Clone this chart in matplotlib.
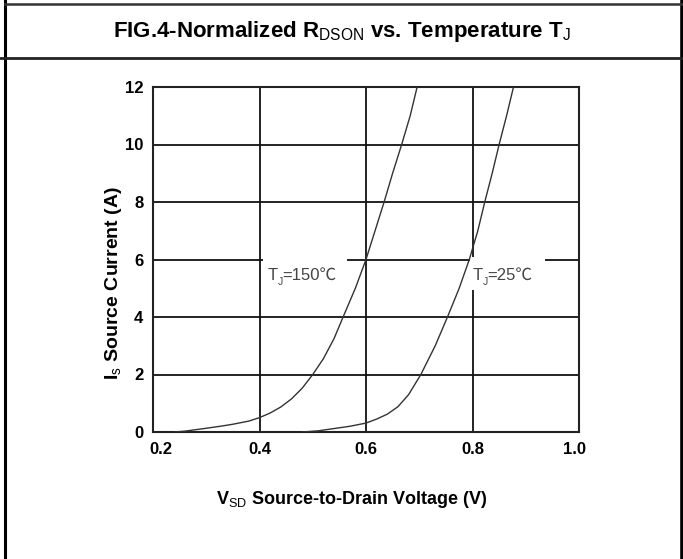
import matplotlib
matplotlib.use("Agg")
import matplotlib.pyplot as plt
from matplotlib.lines import Line2D
from matplotlib.patches import Rectangle
import matplotlib.transforms as mtransforms

plt.rcParams['font.family'] = ['Liberation Sans', 'Noto Sans CJK SC', 'DejaVu Sans']
plt.rcParams['mathtext.fontset'] = 'custom'
plt.rcParams['mathtext.rm'] = 'Liberation Sans'
plt.rcParams['mathtext.bf'] = 'Liberation Sans:bold'

# ---- data ----
v_150 = [0.24, 0.26, 0.28, 0.30, 0.33, 0.35, 0.38, 0.40, 0.42, 0.44, 0.46, 0.48, 0.50, 0.52, 0.54, 0.557, 0.58, 0.60, 0.617, 0.634, 0.65, 0.667, 0.683, 0.696]
i_150 = [0.0, 0.03, 0.08, 0.13, 0.21, 0.27, 0.38, 0.5, 0.66, 0.87, 1.15, 1.52, 2.0, 2.55, 3.25, 4.0, 5.0, 6.0, 7.0, 8.0, 9.0, 10.0, 11.0, 12.0]

v_25 = [0.48, 0.51, 0.54, 0.57, 0.60, 0.62, 0.64, 0.66, 0.68, 0.703, 0.73, 0.753, 0.775, 0.794, 0.81, 0.823, 0.837, 0.850, 0.864, 0.877]
i_25 = [0.0, 0.04, 0.12, 0.2, 0.31, 0.45, 0.62, 0.88, 1.3, 2.0, 3.0, 4.0, 5.0, 6.0, 7.0, 8.0, 9.0, 10.0, 11.0, 12.0]

x_ticks = [0.2, 0.4, 0.6, 0.8, 1.0]
x_tick_labels = ['0.2', '0.4', '0.6', '0.8', '1.0']
y_ticks = [0, 2, 4, 6, 8, 10, 12]
y_tick_labels = ['0', '2', '4', '6', '8', '10', '12']

title = r'FIG.4-Normalized R$_{\mathrm{DSON}}$ vs. Temperature T$_{\mathrm{J}}$'
xlabel = r'V$_{\mathrm{SD}}$ Source-to-Drain Voltage (V)'
ylabel = r'I$_{\mathrm{s}}$ Source Current (A)'
label_150 = '=150℃'
label_25 = '=25℃'

W, H = 683, 559
fig = plt.figure(figsize=(W / 100, H / 100), dpi=100)
ax = fig.add_axes([153 / W, 1 - 432 / H, (579 - 153) / W, (432 - 87) / H])

ax.set_xlim(0.2, 1.0)
ax.set_ylim(0, 12)
ax.set_xticks(x_ticks)
ax.set_xticklabels(x_tick_labels, fontsize=12, fontweight='bold')
ax.set_yticks(y_ticks)
ax.set_yticklabels(y_tick_labels, fontsize=12, fontweight='bold')
ax.tick_params(length=0, pad=7)

labs = ax.get_xticklabels()
labs[0].set_transform(labs[0].get_transform() + mtransforms.ScaledTranslation(8 / 100, 0, fig.dpi_scale_trans))
labs[-1].set_transform(labs[-1].get_transform() + mtransforms.ScaledTranslation(-4 / 100, 0, fig.dpi_scale_trans))

ax.grid(True, color='#111111', linewidth=1.3, zorder=1)
ax.set_axisbelow(True)
for s in ax.spines.values():
    s.set_linewidth(1.5)
    s.set_color('#222222')

# white gaps in grid behind labels
ax.add_patch(Rectangle((0.4066, 5.15), 0.564 - 0.4066, 0.95, facecolor='white', edgecolor='none', zorder=1.5))
ax.add_patch(Rectangle((0.795, 4.95), 0.936 - 0.795, 1.15, facecolor='white', edgecolor='none', zorder=1.5))

ax.plot(v_150, i_150, color='#333333', linewidth=1.0, zorder=3, solid_joinstyle='round')
ax.plot(v_25, i_25, color='#333333', linewidth=1.0, zorder=3, solid_joinstyle='round')

lc = '#444444'
ax.text(0.416, 5.28, 'T', fontsize=12, color=lc, va='baseline', ha='left', zorder=4)
ax.text(0.4345, 5.12, 'J', fontsize=7.5, color=lc, va='baseline', ha='left', zorder=4)
ax.text(0.443, 5.28, label_150, fontsize=12, color=lc, va='baseline', ha='left', zorder=4)

ax.text(0.8, 5.28, 'T', fontsize=12, color=lc, va='baseline', ha='left', zorder=4)
ax.text(0.8185, 5.12, 'J', fontsize=7.5, color=lc, va='baseline', ha='left', zorder=4)
ax.text(0.827, 5.28, label_25, fontsize=12, color=lc, va='baseline', ha='left', zorder=4)

fig.text(352 / W, 1 - 500 / H, xlabel, fontsize=13, fontweight='bold', ha='center', va='center')
fig.text(114 / W, 1 - 283 / H, ylabel, fontsize=14, fontweight='bold', ha='center', va='center', rotation=90)
fig.text(342 / W, 1 - 31 / H, title, fontsize=16, fontweight='bold', ha='center', va='center')

# table-like frame
fig.add_artist(Line2D([5 / W, 5 / W], [0, 1], transform=fig.transFigure, color='black', linewidth=2.2))
fig.add_artist(Line2D([681.5 / W, 681.5 / W], [0, 1], transform=fig.transFigure, color='black', linewidth=2.6))
fig.add_artist(Line2D([5 / W, 1], [1 - 3.8 / H, 1 - 3.8 / H], transform=fig.transFigure, color='#333333', linewidth=1.8))
fig.add_artist(Line2D([0, 1], [1 - 57.8 / H, 1 - 57.8 / H], transform=fig.transFigure, color='#222222', linewidth=2.0))

fig.savefig('out.png', dpi=100)
